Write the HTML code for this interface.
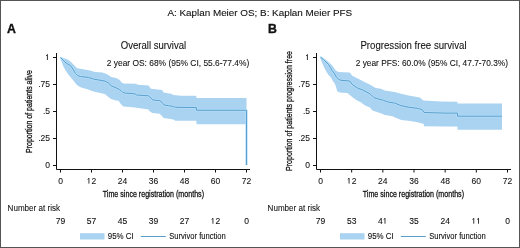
<!DOCTYPE html>
<html><head><meta charset="utf-8"><style>
html,body{margin:0;padding:0;background:#fff;width:520px;height:248px;overflow:hidden}
svg{display:block;will-change:transform}
text{font-family:"Liberation Sans",sans-serif;fill:#111;stroke:#111;stroke-width:0.2px}
.t8{font-size:8.5px;stroke-width:0.08px}
.t75{font-size:8.3px;stroke-width:0.1px}
.t8n{font-size:8.6px;stroke-width:0.08px}
.tn{font-size:8.5px;stroke-width:0.1px}
.t84{font-size:8.4px;stroke-width:0.08px}
.t9{font-size:9.4px;stroke-width:0.1px}
.t10{font-size:10px;stroke-width:0.08px}
.tb{font-size:12.3px;font-weight:bold;fill:#111;stroke-width:0.35px}
.tc{font-size:9.8px;stroke-width:0.3px}
</style></head><body>
<svg width="520" height="248" viewBox="0 0 520 248">
<rect x="0" y="0" width="520" height="248" fill="#fff"/>
<text x="167.4" y="15.7" class="t9" textLength="184.8" lengthAdjust="spacingAndGlyphs">A: Kaplan Meier OS; B: Kaplan Meier PFS</text>
<g transform="translate(0,0)">
<path d="M60.5,57 L65,58.5 L68.5,60 L71,62 L72.25,63.25 L77.25,68.25 L84.75,69.5 L90,70.6 L95,71.9 L102.5,72.5 L107.5,74.4 L111.25,76.9 L116,78.1 L119.75,80 L121.6,82.5 L123.5,83.5 L136,83.75 L137.9,84.75 L148.5,85.6 L151,88.75 L162.25,90 L163.5,92.5 L171,93.75 L173.5,95 L181,95.75 L196,95.75 L196.6,98 L246.5,98 L246.5,124.3 L196.6,124.3 L196.25,120.8 L175.4,120.8 L173.5,119.4 L163.5,118.1 L162.25,116.25 L159.75,113.75 L152.25,113.1 L149.75,111.25 L148.5,109.4 L134.75,107.5 L123.5,106.6 L121,104.3 L118.5,100.8 L116,100.5 L111,99.1 L107.25,96 L104.75,94.1 L93.5,91.6 L87.25,89.3 L80.4,87.2 L76.6,84.8 L74.8,82.3 L72.1,79 L67.9,74 L63.6,67 L60.5,59 Z" fill="#aad3f2"/>
<path d="M60.5,57.5 L66,63 L70.5,65.6 L73.3,69.6 L75.3,73.3 L77.5,75.4 L80.5,76.5 L88.5,77.4 L93.5,79.1 L100,80.2 L105,81.1 L108.75,83 L111.25,86 L115,87.3 L118.75,89.2 L121,90.6 L122.9,92.5 L125.4,93.1 L134.75,93.75 L136.6,95 L148.5,95.8 L151,98.1 L152.9,100 L159.75,100.6 L162.25,102.5 L164.1,105 L168.5,105.6 L173.5,106.5 L175.4,107.3 L196.25,107.5 L196.6,110.3 L246.5,110.3 V165" fill="none" stroke="#b4def9" stroke-width="2.3" stroke-linejoin="round"/>
<path d="M60.5,57.5 L66,63 L70.5,65.6 L73.3,69.6 L75.3,73.3 L77.5,75.4 L80.5,76.5 L88.5,77.4 L93.5,79.1 L100,80.2 L105,81.1 L108.75,83 L111.25,86 L115,87.3 L118.75,89.2 L121,90.6 L122.9,92.5 L125.4,93.1 L134.75,93.75 L136.6,95 L148.5,95.8 L151,98.1 L152.9,100 L159.75,100.6 L162.25,102.5 L164.1,105 L168.5,105.6 L173.5,106.5 L175.4,107.3 L196.25,107.5 L196.6,110.3 L246.5,110.3 V165" fill="none" stroke="#5a9fcc" stroke-width="1"/>
<path d="M56.5,53V169.5H250" fill="none" stroke="#111" stroke-width="1"/>
<path d="M53,57.5H56" stroke="#111" stroke-width="1"/>
<path d="M47.42,54.39V60.00M47.42,54.69L46.12,55.79" stroke="#2a2a2a" stroke-width="0.95" fill="none"/>
<path d="M53,84.5H56" stroke="#111" stroke-width="1"/>
<text x="50" y="87.0" text-anchor="end" class="t8">.75</text>
<path d="M53,111.5H56" stroke="#111" stroke-width="1"/>
<text x="50" y="114.0" text-anchor="end" class="t8">.5</text>
<path d="M53,138.5H56" stroke="#111" stroke-width="1"/>
<text x="50" y="141.0" text-anchor="end" class="t8">.25</text>
<path d="M53,165.5H56" stroke="#111" stroke-width="1"/>
<text x="50" y="168.0" text-anchor="end" class="t8">0</text>
<path d="M60.5,170V172.5" stroke="#111" stroke-width="1"/>
<text x="60.50" y="183.6" text-anchor="middle" class="t8">0</text>
<text x="58.12" y="223.7" text-anchor="middle" class="tn">7</text><text x="62.88" y="223.7" text-anchor="middle" class="tn">9</text>
<path d="M91.5,170V172.5" stroke="#111" stroke-width="1"/>
<path d="M88.92,177.99V183.60M88.92,178.29L87.62,179.39" stroke="#2a2a2a" stroke-width="0.95" fill="none"/><text x="93.88" y="183.6" text-anchor="middle" class="t8">2</text>
<text x="89.12" y="223.7" text-anchor="middle" class="tn">5</text><text x="93.88" y="223.7" text-anchor="middle" class="tn">7</text>
<path d="M122.5,170V172.5" stroke="#111" stroke-width="1"/>
<text x="120.12" y="183.6" text-anchor="middle" class="t8">2</text><text x="124.88" y="183.6" text-anchor="middle" class="t8">4</text>
<text x="120.12" y="223.7" text-anchor="middle" class="tn">4</text><text x="124.88" y="223.7" text-anchor="middle" class="tn">5</text>
<path d="M153.5,170V172.5" stroke="#111" stroke-width="1"/>
<text x="151.12" y="183.6" text-anchor="middle" class="t8">3</text><text x="155.88" y="183.6" text-anchor="middle" class="t8">6</text>
<text x="151.12" y="223.7" text-anchor="middle" class="tn">3</text><text x="155.88" y="223.7" text-anchor="middle" class="tn">9</text>
<path d="M184.5,170V172.5" stroke="#111" stroke-width="1"/>
<text x="182.12" y="183.6" text-anchor="middle" class="t8">4</text><text x="186.88" y="183.6" text-anchor="middle" class="t8">8</text>
<text x="182.12" y="223.7" text-anchor="middle" class="tn">2</text><text x="186.88" y="223.7" text-anchor="middle" class="tn">7</text>
<path d="M215.5,170V172.5" stroke="#111" stroke-width="1"/>
<text x="213.12" y="183.6" text-anchor="middle" class="t8">6</text><text x="217.88" y="183.6" text-anchor="middle" class="t8">0</text>
<path d="M212.93,218.09V223.70M212.93,218.39L211.62,219.49" stroke="#2a2a2a" stroke-width="0.95" fill="none"/><text x="217.88" y="223.7" text-anchor="middle" class="tn">2</text>
<path d="M246.5,170V172.5" stroke="#111" stroke-width="1"/>
<text x="244.12" y="183.6" text-anchor="middle" class="t8">7</text><text x="248.88" y="183.6" text-anchor="middle" class="t8">2</text>
<text x="246.50" y="223.7" text-anchor="middle" class="tn">0</text>
<text x="120.8" y="48.5" class="t10" textLength="65.4" lengthAdjust="spacingAndGlyphs">Overall survival</text>
<text x="106.8" y="65.6" class="t84" textLength="142.4" lengthAdjust="spacingAndGlyphs">2 year OS: 68% (95% CI, 55.6-77.4%)</text>
<text x="6.9" y="32.5" class="tb">A</text>
<text transform="translate(32,153) rotate(-90)" x="0" y="0" class="tc" textLength="83" lengthAdjust="spacingAndGlyphs">Proportion of patients alive</text>
<text x="102.8" y="197" class="tc" textLength="101.2" lengthAdjust="spacingAndGlyphs">Time since registration (months)</text>
<text x="7.6" y="210.7" class="t8n" textLength="52.4" lengthAdjust="spacingAndGlyphs">Number at risk</text>
<rect x="80" y="233.2" width="24.5" height="6.3" fill="#aad3f2"/>
<text x="107.8" y="239.2" class="t75" textLength="26" lengthAdjust="spacingAndGlyphs">95% CI</text>
<path d="M140.8,236.5H165.8" stroke="#5a9fcc" stroke-width="1"/>
<text x="169.2" y="239.2" class="t75" textLength="56.6" lengthAdjust="spacingAndGlyphs">Survivor function</text>
</g>
<g transform="translate(260,0)">
<path d="M60.5,56.5 L62,57.5 L64.75,59.3 L68.5,61.8 L72.25,65.5 L76,70.75 L78.5,72 L89.75,72.6 L92.25,75.75 L97.25,78.25 L99.75,79.5 L103.5,81.5 L109.75,84.5 L114.75,87.5 L116,88.1 L121,88.75 L124.75,90.6 L134.75,91.9 L141,93.75 L148.5,95.6 L159.75,97.5 L163.5,100.6 L181,101.5 L197.5,101.75 L197.5,103.6 L242,103.6 L242,129.75 L197.5,129.75 L197.5,126.5 L185,126.5 L164.1,126.25 L163.5,123.75 L156,121.9 L148.5,120.8 L141.25,120 L136.25,118.1 L132.5,116.25 L125,115 L120,113.1 L112.5,110.6 L110,107.5 L105,105.6 L101.25,102.5 L96.25,100 L91.25,96.25 L87.5,93.1 L80,92.5 L77.25,91.3 L75.4,85 L74,82.5 L72.5,80.5 L71,77.5 L68.5,75 L66,71 L63.5,66 L61.5,61.5 L60.5,58 Z" fill="#aad3f2"/>
<path d="M60.5,57.3 L63.5,59.5 L66,62 L68.5,64.5 L70.4,67.6 L72.25,70.75 L74.75,74 L76.6,77.5 L78.5,79.3 L81,80.3 L89.75,81 L92.25,84.5 L97.25,87.9 L102.25,89.75 L106.25,91.9 L110,93.75 L113.75,97.5 L117.5,98.75 L123.75,100.4 L127.5,101.9 L134.75,103.1 L141,105.6 L148.5,107.2 L158.5,108.5 L162.25,109.8 L164.1,112.5 L185,113.1 L197.5,113.1 L197.5,116.2 L242,116.2" fill="none" stroke="#b4def9" stroke-width="2.3" stroke-linejoin="round"/>
<path d="M60.5,57.3 L63.5,59.5 L66,62 L68.5,64.5 L70.4,67.6 L72.25,70.75 L74.75,74 L76.6,77.5 L78.5,79.3 L81,80.3 L89.75,81 L92.25,84.5 L97.25,87.9 L102.25,89.75 L106.25,91.9 L110,93.75 L113.75,97.5 L117.5,98.75 L123.75,100.4 L127.5,101.9 L134.75,103.1 L141,105.6 L148.5,107.2 L158.5,108.5 L162.25,109.8 L164.1,112.5 L185,113.1 L197.5,113.1 L197.5,116.2 L242,116.2" fill="none" stroke="#5a9fcc" stroke-width="1"/>
<path d="M56.5,53V169.5H251" fill="none" stroke="#111" stroke-width="1"/>
<path d="M53,57.5H56" stroke="#111" stroke-width="1"/>
<path d="M47.42,54.39V60.00M47.42,54.69L46.12,55.79" stroke="#2a2a2a" stroke-width="0.95" fill="none"/>
<path d="M53,84.5H56" stroke="#111" stroke-width="1"/>
<text x="50" y="87.0" text-anchor="end" class="t8">.75</text>
<path d="M53,111.5H56" stroke="#111" stroke-width="1"/>
<text x="50" y="114.0" text-anchor="end" class="t8">.5</text>
<path d="M53,138.5H56" stroke="#111" stroke-width="1"/>
<text x="50" y="141.0" text-anchor="end" class="t8">.25</text>
<path d="M53,165.5H56" stroke="#111" stroke-width="1"/>
<text x="50" y="168.0" text-anchor="end" class="t8">0</text>
<path d="M60.5,170V172.5" stroke="#111" stroke-width="1"/>
<text x="60.50" y="183.6" text-anchor="middle" class="t8">0</text>
<text x="58.12" y="223.7" text-anchor="middle" class="tn">7</text><text x="62.88" y="223.7" text-anchor="middle" class="tn">9</text>
<path d="M91.67,170V172.5" stroke="#111" stroke-width="1"/>
<path d="M89.09,177.99V183.60M89.09,178.29L87.80,179.39" stroke="#2a2a2a" stroke-width="0.95" fill="none"/><text x="94.05" y="183.6" text-anchor="middle" class="t8">2</text>
<text x="89.30" y="223.7" text-anchor="middle" class="tn">5</text><text x="94.05" y="223.7" text-anchor="middle" class="tn">3</text>
<path d="M122.83,170V172.5" stroke="#111" stroke-width="1"/>
<text x="120.45" y="183.6" text-anchor="middle" class="t8">2</text><text x="125.20" y="183.6" text-anchor="middle" class="t8">4</text>
<text x="120.45" y="223.7" text-anchor="middle" class="tn">4</text><path d="M125.00,218.09V223.70M125.00,218.39L123.70,219.49" stroke="#2a2a2a" stroke-width="0.95" fill="none"/>
<path d="M154.0,170V172.5" stroke="#111" stroke-width="1"/>
<text x="151.62" y="183.6" text-anchor="middle" class="t8">3</text><text x="156.38" y="183.6" text-anchor="middle" class="t8">6</text>
<text x="151.62" y="223.7" text-anchor="middle" class="tn">3</text><text x="156.38" y="223.7" text-anchor="middle" class="tn">5</text>
<path d="M185.17,170V172.5" stroke="#111" stroke-width="1"/>
<text x="182.79" y="183.6" text-anchor="middle" class="t8">4</text><text x="187.54" y="183.6" text-anchor="middle" class="t8">8</text>
<text x="182.79" y="223.7" text-anchor="middle" class="tn">2</text><text x="187.54" y="223.7" text-anchor="middle" class="tn">4</text>
<path d="M216.33,170V172.5" stroke="#111" stroke-width="1"/>
<text x="213.96" y="183.6" text-anchor="middle" class="t8">6</text><text x="218.71" y="183.6" text-anchor="middle" class="t8">0</text>
<path d="M213.76,218.09V223.70M213.76,218.39L212.46,219.49" stroke="#2a2a2a" stroke-width="0.95" fill="none"/><path d="M218.51,218.09V223.70M218.51,218.39L217.21,219.49" stroke="#2a2a2a" stroke-width="0.95" fill="none"/>
<path d="M247.5,170V172.5" stroke="#111" stroke-width="1"/>
<text x="245.12" y="183.6" text-anchor="middle" class="t8">7</text><text x="249.88" y="183.6" text-anchor="middle" class="t8">2</text>
<text x="247.50" y="223.7" text-anchor="middle" class="tn">0</text>
<text x="100.4" y="48.5" class="t10" textLength="106.2" lengthAdjust="spacingAndGlyphs">Progression free survival</text>
<text x="95.7" y="65.6" class="t84" textLength="152.3" lengthAdjust="spacingAndGlyphs">2 year PFS: 60.0% (95% CI, 47.7-70.3%)</text>
<text x="8.1" y="32.5" class="tb">B</text>
<text transform="translate(32,171) rotate(-90)" x="0" y="0" class="tc" textLength="120" lengthAdjust="spacingAndGlyphs">Proportion of patients progression free</text>
<text x="102.8" y="197" class="tc" textLength="101.2" lengthAdjust="spacingAndGlyphs">Time since registration (months)</text>
<text x="7.6" y="210.7" class="t8n" textLength="52.4" lengthAdjust="spacingAndGlyphs">Number at risk</text>
<rect x="80" y="233.2" width="24.5" height="6.3" fill="#aad3f2"/>
<text x="107.8" y="239.2" class="t75" textLength="26" lengthAdjust="spacingAndGlyphs">95% CI</text>
<path d="M140.8,236.5H165.8" stroke="#5a9fcc" stroke-width="1"/>
<text x="169.2" y="239.2" class="t75" textLength="56.6" lengthAdjust="spacingAndGlyphs">Survivor function</text>
</g>
<rect x="0.5" y="0.5" width="519" height="247" fill="none" stroke="#555" stroke-width="1"/>
</svg>
</body></html>
